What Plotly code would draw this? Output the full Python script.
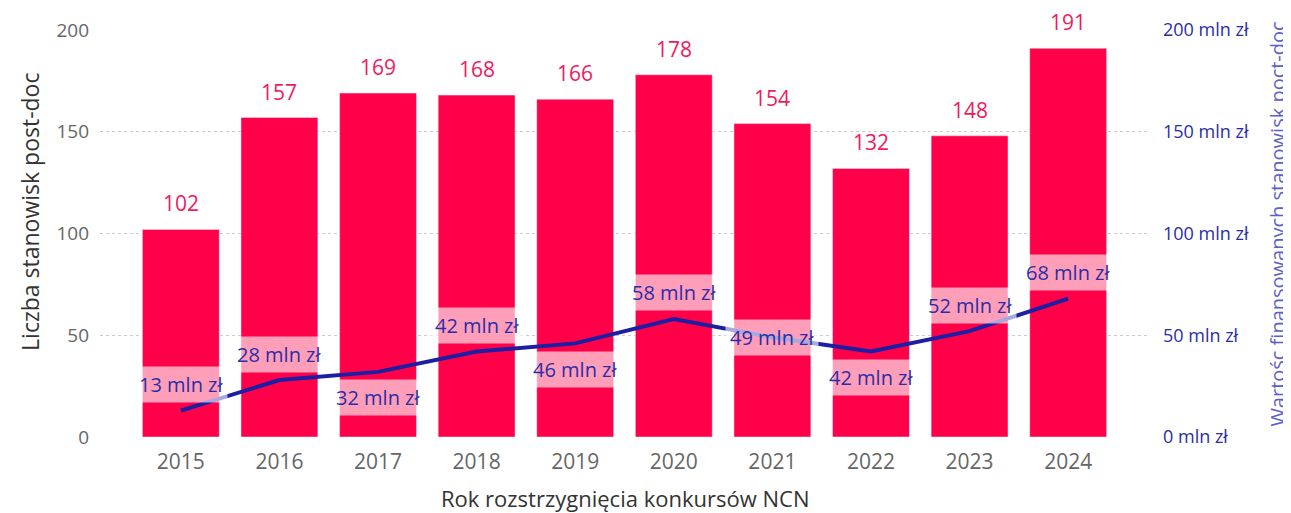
import plotly.graph_objects as go

years = ["2015", "2016", "2017", "2018", "2019", "2020", "2021", "2022", "2023", "2024"]
positions = [102, 157, 169, 168, 166, 178, 154, 132, 148, 191]
funding = [13, 28, 32, 42, 46, 58, 49, 42, 52, 68]
label_side = [1, 1, -1, 1, -1, 1, 0, -1, 1, 1]
y_ticks = [0, 50, 100, 150, 200]
y2_ticklabels = ["0 mln zł", "50 mln zł", "100 mln zł", "150 mln zł", "200 mln zł"]

FONT = "Open Sans, Segoe UI, sans-serif"
BAR = "#FF0049"
BARTXT = "#F01A5C"
NAVY = "#1C1FA3"
NAVYTXT = "#2A2EA6"

fig = go.Figure()
fig.add_trace(go.Bar(x=years, y=positions, marker_color=BAR, width=0.78,
                     hoverinfo="skip", showlegend=False))
fig.add_trace(go.Scatter(x=years, y=funding, yaxis="y2", mode="lines",
                         line=dict(color=NAVY, width=4), showlegend=False))

ann = []
for i, v in enumerate(positions):
    ann.append(dict(x=i, y=v, xref="x", yref="y", text=str(v), showarrow=False,
                    yanchor="bottom", yshift=10,
                    font=dict(family=FONT, size=21, color=BARTXT)))
for i, (v, s) in enumerate(zip(funding, label_side)):
    ann.append(dict(x=i, y=v, xref="x", yref="y2", text=f"{v} mln zł", showarrow=False,
                    yanchor="middle", yshift=26 * s,
                    bgcolor="rgba(255,255,255,0.62)", borderpad=4,
                    font=dict(family=FONT, size=20, color=NAVYTXT)))

# axis titles
ann.append(dict(x=0.5, y=-0.15, xref="paper", yref="paper", showarrow=False,
                text="Rok rozstrzygnięcia konkursów NCN", xanchor="center", yanchor="middle",
                font=dict(family=FONT, size=22, color="#333333")))
ann.append(dict(x=-0.0667, y=0.553, xref="paper", yref="paper", showarrow=False,
                text="Liczba stanowisk post-doc", textangle=-90,
                xanchor="center", yanchor="middle",
                font=dict(family=FONT, size=23, color="#333333")))
ann.append(dict(x=1.121, y=0.522, xref="paper", yref="paper", showarrow=False,
                text="Wartośc finansowanych stanowisk poct-doc", textangle=-90,
                xanchor="center", yanchor="middle",
                font=dict(family=FONT, size=20, color="#5A62C8")))

fig.update_layout(
    width=1283, height=505,
    margin=dict(l=92, r=141, t=22, b=76),
    plot_bgcolor="white", paper_bgcolor="white",
    annotations=ann,
    xaxis=dict(type="category", range=[-0.82, 9.83], showgrid=False, showline=False, ticks="",
               automargin=False, ticklabelstandoff=10,
               tickfont=dict(family=FONT, size=21, color="#666666")),
    yaxis=dict(range=[0, 200], tickvals=y_ticks, showgrid=True, gridcolor="#CCCCCC",
               griddash="dot", gridwidth=1, zeroline=False, showline=False,
               automargin=False, ticklabelstandoff=10,
               tickfont=dict(family=FONT, size=19, color="#666666")),
    yaxis2=dict(range=[0, 200], overlaying="y", side="right", tickvals=y_ticks,
                ticktext=y2_ticklabels, showgrid=False, zeroline=False, showline=False,
                automargin=False, ticklabelstandoff=12,
                tickfont=dict(family=FONT, size=18, color=NAVYTXT)),
)
fig.write_html("out.html")
